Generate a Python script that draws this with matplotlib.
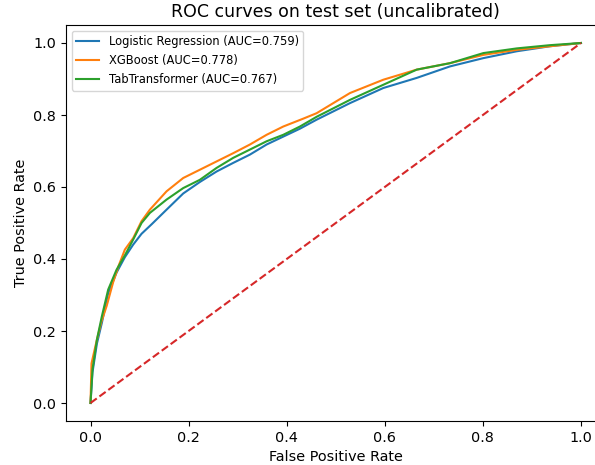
import matplotlib
matplotlib.use("Agg")
import matplotlib.pyplot as plt
import numpy as np

# ROC points
lr_fpr = [0.0, 0.004, 0.013, 0.023, 0.036, 0.053, 0.070, 0.087, 0.104, 0.125, 0.155,
          0.189, 0.223, 0.257, 0.291, 0.325, 0.359, 0.393, 0.427, 0.461, 0.529, 0.597,
          0.665, 0.733, 0.801, 0.869, 0.937, 1.0]
lr_tpr = [0.0, 0.085, 0.165, 0.222, 0.305, 0.362, 0.405, 0.44, 0.47, 0.497, 0.537,
          0.582, 0.614, 0.643, 0.667, 0.69, 0.718, 0.74, 0.762, 0.787, 0.833, 0.875,
          0.903, 0.935, 0.958, 0.977, 0.991, 1.0]

xgb_fpr = [0.0, 0.002, 0.012, 0.022, 0.033, 0.046, 0.057, 0.070, 0.087, 0.104, 0.121,
           0.155, 0.189, 0.223, 0.257, 0.291, 0.325, 0.359, 0.393, 0.434, 0.461, 0.529,
           0.597, 0.665, 0.733, 0.801, 0.869, 0.937, 1.0]
xgb_tpr = [0.0, 0.11, 0.17, 0.225, 0.27, 0.335, 0.38, 0.426, 0.458, 0.505, 0.537,
           0.588, 0.625, 0.648, 0.671, 0.694, 0.718, 0.745, 0.768, 0.79, 0.805, 0.861,
           0.898, 0.926, 0.944, 0.967, 0.981, 0.991, 1.0]

tab_fpr = [0.0, 0.004, 0.013, 0.023, 0.036, 0.053, 0.070, 0.087, 0.104, 0.121, 0.155,
           0.189, 0.223, 0.257, 0.291, 0.325, 0.359, 0.393, 0.427, 0.461, 0.529, 0.597,
           0.665, 0.733, 0.801, 0.869, 0.937, 1.0]
tab_tpr = [0.0, 0.093, 0.176, 0.24, 0.315, 0.37, 0.41, 0.454, 0.5, 0.528, 0.565,
           0.597, 0.62, 0.653, 0.681, 0.704, 0.727, 0.745, 0.768, 0.795, 0.842, 0.884,
           0.926, 0.944, 0.972, 0.985, 0.994, 1.0]

labels = ["Logistic Regression (AUC=0.759)", "XGBoost (AUC=0.778)",
          "TabTransformer (AUC=0.767)"]

plt.rcParams["font.size"] = 10.4

fig = plt.figure(figsize=(5.95, 4.65), dpi=100)
ax = fig.add_axes([66 / 595, 44 / 465, 539.5 / 595, 396 / 465])

ax.plot(lr_fpr, lr_tpr, color="tab:blue", label=labels[0])
ax.plot(xgb_fpr, xgb_tpr, color="tab:orange", label=labels[1])
ax.plot(tab_fpr, tab_tpr, color="tab:green", label=labels[2])
ax.plot([0, 1], [0, 1], "--", color="tab:red")

ax.set_xlabel("False Positive Rate")
ax.set_ylabel("True Positive Rate")
ax.set_title("ROC curves on test set (uncalibrated)", fontsize=12.5)
ax.legend(loc="upper left", fontsize=8.3)

fig.savefig("out.png", dpi=100)
